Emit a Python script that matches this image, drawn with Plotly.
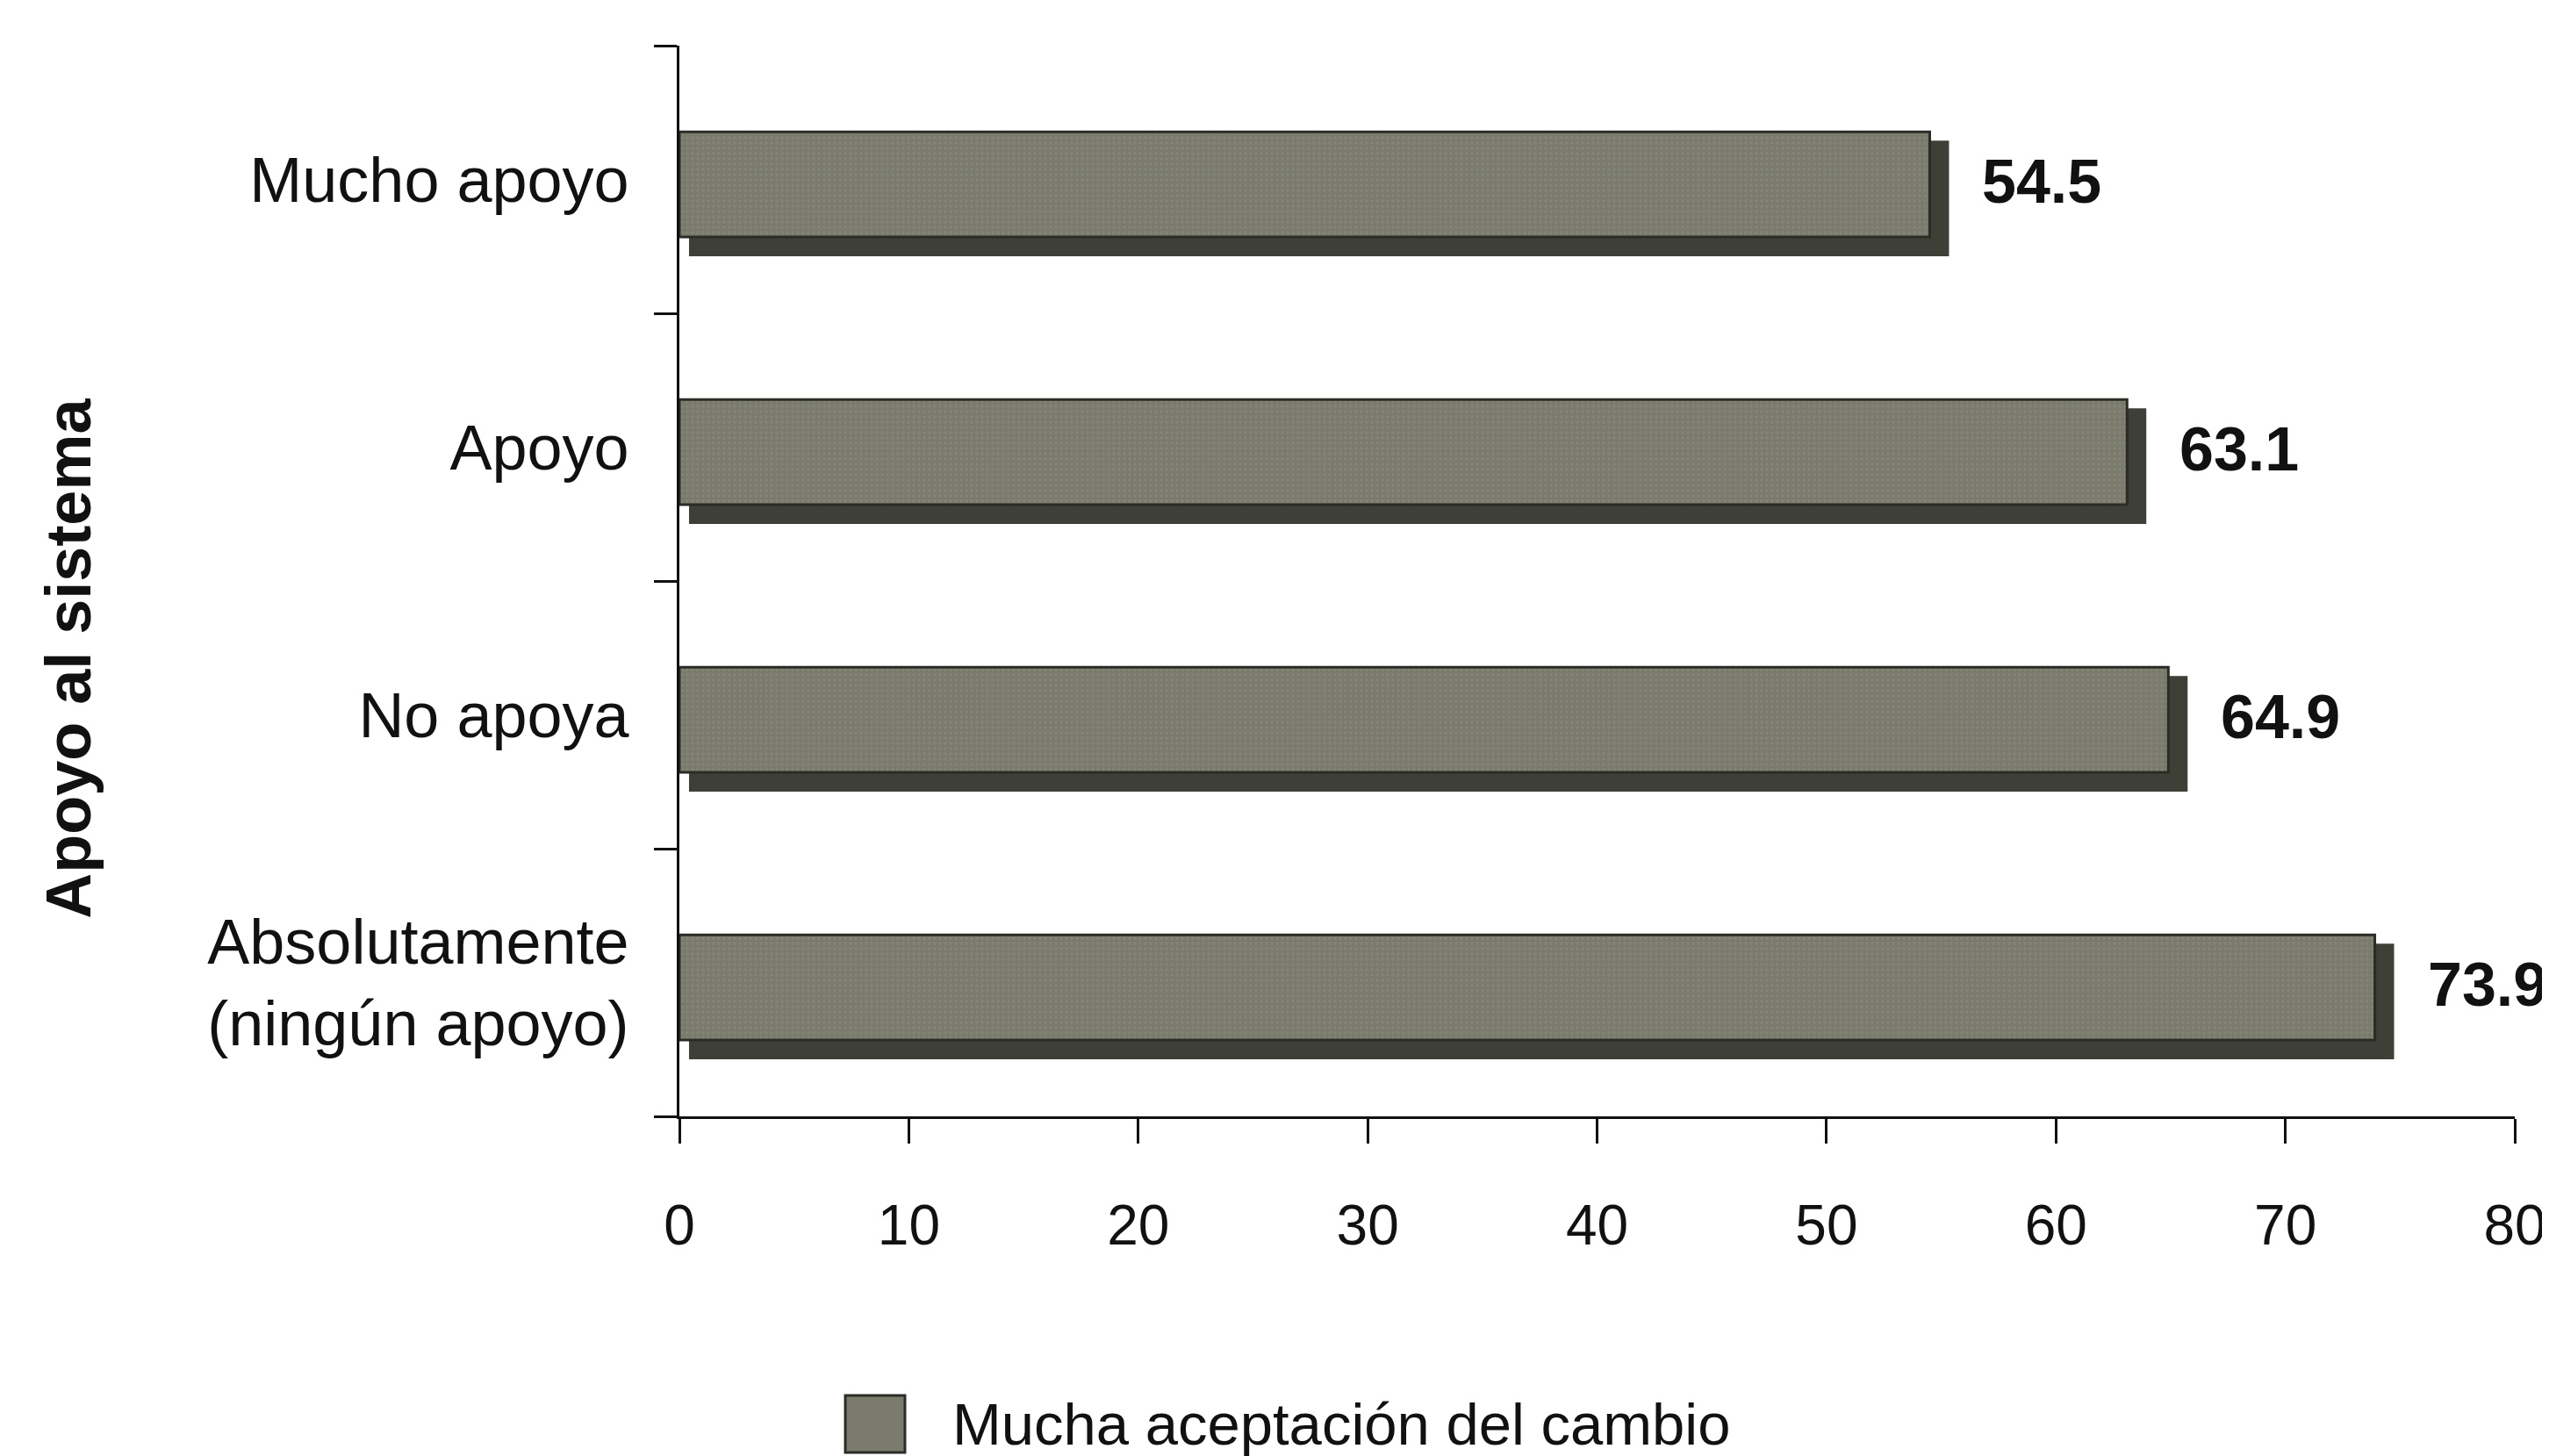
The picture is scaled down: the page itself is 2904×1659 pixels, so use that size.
import plotly.graph_objects as go

# ---- data (bottom to top) ----
categories = ["Absolutamente<br>(ningún apoyo)", "No apoya", "Apoyo", "Mucho apoyo"]
values = [73.9, 64.9, 63.1, 54.5]
value_labels = ["73.9", "64.9", "63.1", "54.5"]
x_ticks = [0, 10, 20, 30, 40, 50, 60, 70, 80]
series_name = "Mucha aceptación del cambio"
axis_title = "Apoyo al sistema"

FONT = "Liberation Sans, Arial, sans-serif"
INK = "#111111"
FACE = "#7a7b6c"
SHADOW = "#3e3f36"
EDGE = "#2c2c26"

# style constants (shadow extrusion, in data units)
SH_DX = 0.84
SH_BASE = 0.42
FACE_OFF, FACE_W = -0.215, 0.393
SH_OFF, SH_W = -0.287, 0.432


def f(size, bold=False):
    return dict(family=FONT, size=size, color=INK,
                weight="bold" if bold else "normal")


fig = go.Figure()

# shadow bars
fig.add_trace(go.Bar(
    y=categories, x=[v + SH_DX - SH_BASE for v in values], base=SH_BASE,
    orientation="h", offset=SH_OFF, width=SH_W,
    marker=dict(color=SHADOW, line=dict(width=0)),
    showlegend=False, hoverinfo="skip",
))
# face bars
fig.add_trace(go.Bar(
    y=categories, x=values, name=series_name,
    orientation="h", offset=FACE_OFF, width=FACE_W,
    marker=dict(
        color=FACE,
        line=dict(width=3, color=EDGE),
        pattern=dict(shape=".", fgcolor="#8e8f80", bgcolor=FACE, size=6, solidity=0.25),
    ),
    showlegend=False,
))

annotations = []
for c, v, t in zip(categories, values, value_labels):
    annotations.append(dict(
        x=v, y=c, xref="x", yref="y", text=t,
        showarrow=False, xanchor="left", yanchor="middle",
        xshift=58, yshift=-2,
        font=f(70, bold=True),
    ))

# y-axis title
annotations.append(dict(
    x=-0.3329, y=0.428, xref="paper", yref="paper", text=axis_title,
    showarrow=False, textangle=-90, xanchor="center", yanchor="middle",
    font=f(72, bold=True),
))
# legend text
annotations.append(dict(
    x=0.1478, y=-0.2869, xref="paper", yref="paper", text=series_name,
    showarrow=False, xanchor="left", yanchor="middle",
    font=f(67),
))

shapes = [dict(
    type="rect", xref="paper", yref="paper",
    x0=0.0904, x1=0.1229, y0=-0.3139, y1=-0.2607,
    fillcolor=FACE, line=dict(color=EDGE, width=3),
)]

fig.update_layout(
    width=2896, height=1651,
    margin=dict(l=766, r=39, t=44, b=387, autoexpand=False),
    paper_bgcolor="white", plot_bgcolor="white",
    barmode="overlay",
    font=f(72),
    annotations=annotations, shapes=shapes,
    showlegend=False,
)
fig.update_xaxes(
    range=[0, 80], tickvals=x_ticks, ticktext=[str(t) for t in x_ticks],
    showgrid=False, zeroline=False,
    showline=True, linecolor=INK, linewidth=3,
    ticks="outside", ticklen=28, tickwidth=3, tickcolor=INK,
    tickfont=f(64),
    ticklabelstandoff=38, ticklabeloverflow="allow", automargin=False,
)
fig.update_yaxes(
    type="category", categoryorder="array", categoryarray=categories,
    range=[-0.5, 3.5], tickson="boundaries",
    showgrid=False, zeroline=False,
    showline=True, linecolor=INK, linewidth=3,
    ticks="outside", ticklen=26, tickwidth=3, tickcolor=INK,
    tickfont=f(72),
    ticklabelstandoff=40, automargin=False,
)

fig.write_html("out.html")
